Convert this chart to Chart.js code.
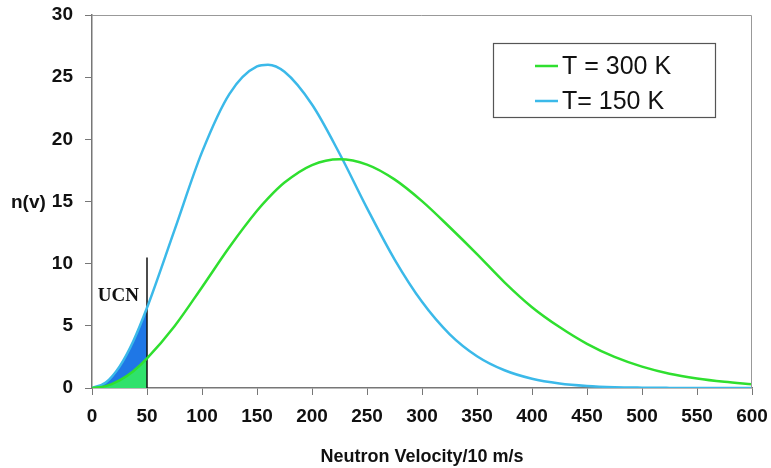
<!DOCTYPE html>
<html>
<head>
<meta charset="utf-8">
<script src="https://cdn.jsdelivr.net/npm/chart.js@4"></script>
<style>
  html, body { margin: 0; padding: 0; background: #fff; }
  #wrap { width: 771px; height: 468px; }
</style>
</head>
<body>
<div id="wrap"><canvas id="chart" width="771" height="468"></canvas></div>
<script>
// velocity in units of 10 m/s, n(v)
const velocity = [0, 12.5, 25, 37.5, 50, 75, 100, 125, 150, 160, 175, 200, 225, 250, 275, 300,
  325, 350, 375, 400, 425, 450, 475, 500, 525, 550, 575, 600]
const n300K = [0, 0.15, 0.61, 1.35, 2.38, 4.97, 8.11, 11.34, 14.25, 15.25, 16.52, 17.93, 18.4, 17.97,
  16.78, 15.03, 12.95, 10.77, 8.5, 6.5, 4.9, 3.55, 2.5, 1.72, 1.15, 0.77, 0.5, 0.3]
const n150K = [0, 0.44, 1.72, 3.76, 6.45, 12.7, 18.97, 23.66, 25.86, 26.0, 25.43, 22.8, 18.86, 14.47,
  10.35, 6.93, 4.34, 2.56, 1.43, 0.75, 0.37, 0.17, 0.07, 0.03, 0.01, 0, 0, 0]
const seriesLabels = ['T = 300 K', 'T= 150 K']
const ucnCut = 50       // UCN cut-off velocity
const ucnLineTop = 10.5 // height of the cut-off marker
const xTicks = { min: 0, max: 600, step: 50 }
const yTicks = { min: 0, max: 30, step: 5 }

const GREEN = '#2fdf2f'
const CYAN = '#3bb9e9'

const pts = (ys, upTo) => velocity
  .map((v, i) => ({ x: v, y: ys[i] }))
  .filter(p => upTo === undefined || p.x <= upTo)

Chart.defaults.font.family = '"Liberation Sans", Arial, sans-serif'
Chart.defaults.color = '#111'

const extras = {
  id: 'extras',
  afterDraw(chart) {
    const { ctx, chartArea: a, scales: { x, y } } = chart
    ctx.save()
    // plot frame, top and right
    ctx.strokeStyle = '#999'
    ctx.lineWidth = 1
    ctx.beginPath()
    ctx.moveTo(a.left, a.top + 0.5)
    ctx.lineTo(a.right - 0.5, a.top + 0.5)
    ctx.lineTo(a.right - 0.5, a.bottom)
    ctx.stroke()

    // y title
    ctx.fillStyle = '#111'
    ctx.font = 'bold 19px "Liberation Sans", Arial, sans-serif'
    ctx.textAlign = 'left'
    ctx.textBaseline = 'middle'
    ctx.fillText('n(v)', 11, y.getPixelForValue(15) + 1)

    // UCN label
    ctx.font = 'bold 19px "Liberation Serif", "Times New Roman", serif'
    ctx.textAlign = 'center'
    ctx.fillText('UCN', x.getPixelForValue(24), y.getPixelForValue(7.4))

    // legend box
    const lx = 493, ly = 43, lw = 222, lh = 74
    ctx.strokeStyle = '#555'
    ctx.lineWidth = 1.2
    ctx.strokeRect(lx + 0.5, ly + 0.5, lw, lh)
    ctx.font = '25px "Liberation Sans", Arial, sans-serif'
    ctx.textAlign = 'left'
    const rows = [[seriesLabels[0], GREEN, 66], [seriesLabels[1], CYAN, 101]]
    rows.forEach(([txt, col, cy]) => {
      ctx.strokeStyle = col
      ctx.lineWidth = 2.5
      ctx.beginPath()
      ctx.moveTo(535, cy)
      ctx.lineTo(558, cy)
      ctx.stroke()
      ctx.fillStyle = '#111'
      ctx.fillText(txt, 562, cy + 1)
    })
    ctx.restore()
  }
}

const curve = { pointRadius: 0, cubicInterpolationMode: 'monotone' }

// keep the plot box where the picture has it: no extra room for overhanging labels
const noOverhang = s => {
  s.paddingTop = 0
  s.paddingBottom = 0
  s.paddingLeft = 0
  s.paddingRight = 0
}

new Chart(document.getElementById('chart'), {
  type: 'line',
  data: {
    datasets: [
      {
        ...curve,
        label: seriesLabels[0],
        data: pts(n300K),
        borderColor: GREEN,
        borderWidth: 2.5,
        fill: false,
        order: 0
      },
      {
        ...curve,
        label: seriesLabels[1],
        data: pts(n150K),
        borderColor: CYAN,
        borderWidth: 2.5,
        fill: false,
        order: 0
      },
      {
        label: 'UCN cut',
        data: [{ x: ucnCut, y: 0 }, { x: ucnCut, y: ucnLineTop }],
        borderColor: '#111',
        borderWidth: 1.5,
        pointRadius: 0,
        tension: 0,
        fill: false,
        order: 0
      },
      {
        ...curve,
        label: 'UCN 300',
        data: pts(n300K, ucnCut),
        borderWidth: 0,
        borderColor: 'rgba(0,0,0,0)',
        backgroundColor: '#2fe26c',
        fill: 'origin',
        order: 1
      },
      {
        ...curve,
        label: 'UCN 150',
        data: pts(n150K, ucnCut),
        borderWidth: 0,
        borderColor: 'rgba(0,0,0,0)',
        backgroundColor: '#1f77e6',
        fill: 'origin',
        order: 2
      }
    ]
  },
  options: {
    responsive: false,
    animation: false,
    layout: { padding: { top: 15, right: 19, left: 0, bottom: 0 } },
    plugins: {
      legend: { display: false },
      tooltip: { enabled: false }
    },
    scales: {
      x: {
        type: 'linear',
        min: xTicks.min,
        max: xTicks.max,
        ticks: { stepSize: xTicks.step, font: { size: 19, weight: 'bold' }, padding: 10, maxRotation: 0 },
        grid: { drawOnChartArea: false, drawTicks: true, tickLength: 7, color: '#777', lineWidth: 1 },
        border: { display: true, color: '#777', width: 1.5 },
        title: {
          display: true,
          text: 'Neutron Velocity/10 m/s',
          font: { size: 18, weight: 'bold' },
          padding: { top: 4, bottom: 0 }
        },
        afterFit: s => { s.height = 80; noOverhang(s) }
      },
      y: {
        type: 'linear',
        min: yTicks.min,
        max: yTicks.max,
        ticks: { stepSize: yTicks.step, font: { size: 19, weight: 'bold' }, padding: 12 },
        grid: { drawOnChartArea: false, drawTicks: true, tickLength: 7, color: '#777', lineWidth: 1 },
        border: { display: true, color: '#777', width: 1.5 },
        afterFit: s => { s.width = 92; noOverhang(s) }
      }
    }
  },
  plugins: [extras]
})
</script>
</body>
</html>
